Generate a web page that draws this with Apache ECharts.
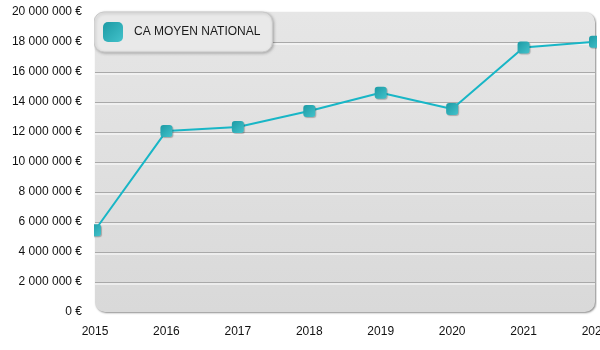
<!DOCTYPE html>
<html><head><meta charset="utf-8">
<script src="https://cdn.jsdelivr.net/npm/echarts@6/dist/echarts.min.js"></script>
<style>html,body{margin:0;padding:0;background:#fff}#c{width:600px;height:350px}</style>
</head><body><div id="c"></div>
<script>
var categories = ['2015','2016','2017','2018','2019','2020','2021','2022'];
var seriesName = 'CA MOYEN NATIONAL';
var values = [5450000, 12070000, 12330000, 13400000, 14620000, 13530000, 17630000, 18020000];
var yMin = 0, yMax = 20000000, yStep = 2000000;

var G = {left: 95, right: 5, top: 12, bottom: 38};
var W = 600, H = 350;
var font = '"Liberation Sans", Arial, sans-serif';

function fmt(v){ return String(v).replace(/\B(?=(\d{3})+(?!\d))/g, ' ') + ' €'; }

var nLines = Math.round((yMax - yMin) / yStep) + 1;
var splitColors = [];
for (var i = 0; i < nLines; i++) splitColors.push((i === 0 || i === nLines - 1) ? 'rgba(0,0,0,0)' : '#a9a9a9');

var markerGrad = new echarts.graphic.LinearGradient(0, 0, 1, 1, [
  {offset: 0, color: '#1c9aa4'}, {offset: 1, color: '#43c2cb'}
]);

var chart = echarts.init(document.getElementById('c'), null, {renderer: 'canvas'});
var pw = W - G.left - G.right, ph = H - G.top - G.bottom;
chart.setOption({
  animation: false,
  textStyle: {fontFamily: font},
  grid: {left: G.left, right: G.right, top: G.top, bottom: G.bottom, containLabel: false, outerBoundsMode: 'none'},
  graphic: [
    {type: 'rect', z: -10, silent: true,
     shape: {x: G.left, y: G.top, width: pw, height: ph, r: 10},
     style: {fill: new echarts.graphic.LinearGradient(0,0,0,1,[{offset:0,color:'#e6e6e6'},{offset:1,color:'#d9d9d9'}]),
             shadowColor: 'rgba(0,0,0,0.45)', shadowBlur: 2, shadowOffsetX: 1, shadowOffsetY: 1}},
    {type: 'rect', z: 100, silent: true, shape: {x: G.left - 10, y: G.top, width: 9, height: ph}, style: {fill: '#fff'}},
    {type: 'rect', z: 100, silent: true, shape: {x: W - G.right + 2, y: G.top, width: 10, height: ph}, style: {fill: '#fff'}}
  ],
  legend: {
    left: G.left - 1, top: G.top, orient: 'horizontal',
    padding: [10, 12, 10, 9],
    backgroundColor: '#e9e9e9', borderColor: '#c9c9c9', borderWidth: 1, borderRadius: 10,
    shadowColor: 'rgba(0,0,0,0.25)', shadowBlur: 3, shadowOffsetX: 1, shadowOffsetY: 1,
    itemWidth: 20, itemHeight: 20, icon: 'roundRect',
    textStyle: {fontSize: 12, color: '#1a1a1a', fontFamily: font, padding: [0,0,0,6]},
    data: [seriesName]
  },
  xAxis: {
    type: 'category', data: categories, boundaryGap: false,
    axisLine: {show: false}, axisTick: {show: false},
    axisLabel: {color: '#111', fontSize: 12, margin: 14, fontFamily: font},
    splitLine: {show: false}
  },
  yAxis: {
    type: 'value', min: yMin, max: yMax, interval: yStep,
    axisLine: {show: false}, axisTick: {show: false},
    axisLabel: {color: '#111', fontSize: 12, margin: 13, fontFamily: font, formatter: fmt, padding: [4,0,0,0]},
    splitLine: {show: true, lineStyle: {color: splitColors, width: 1, shadowColor: 'rgba(255,255,255,1)', shadowOffsetY: 1.5, shadowBlur: 0}}
  },
  series: [{
    name: seriesName, type: 'line', data: values,
    symbol: 'roundRect', symbolSize: 12, showSymbol: true,
    lineStyle: {color: '#18b6c6', width: 2},
    itemStyle: {color: markerGrad, shadowColor: 'rgba(0,0,0,0.25)', shadowBlur: 1, shadowOffsetX: 1, shadowOffsetY: 1},
    z: 5
  }]
});
</script></body></html>
